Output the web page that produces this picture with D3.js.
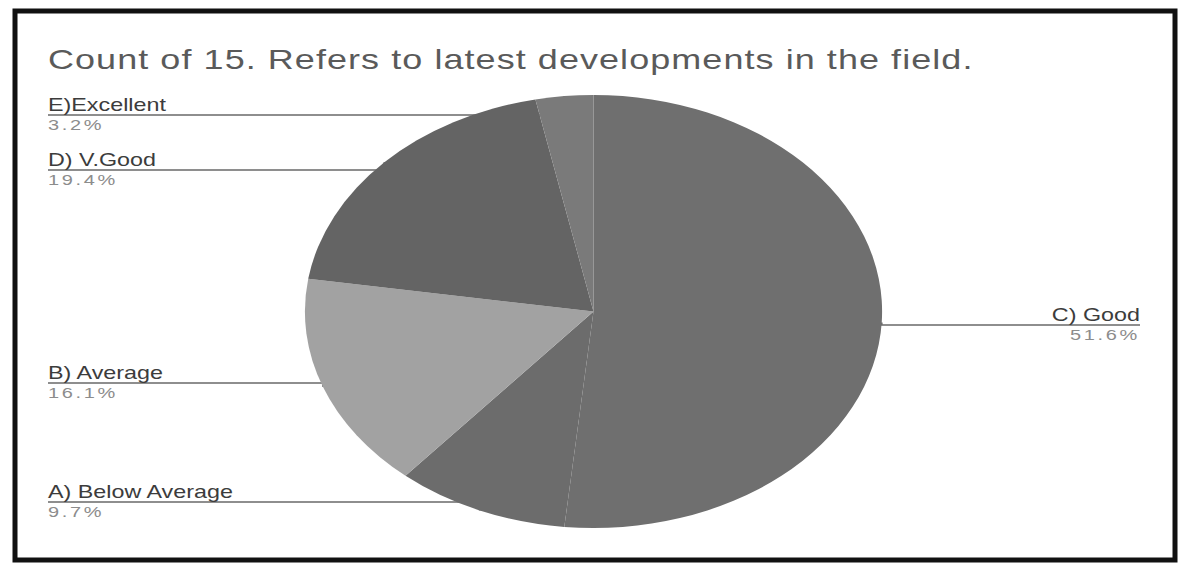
<!DOCTYPE html>
<html>
<head>
<meta charset="utf-8">
<script src="https://cdn.jsdelivr.net/npm/d3@7"></script>
<style>
  body { margin: 0; background: #fff; }
  text { font-family: "Liberation Sans", Arial, sans-serif; }
</style>
</head>
<body>
<svg width="1182" height="565"></svg>
<script>
// данные (ответы, 31 человек)
const categories = ["C) Good", "A) Below Average", "B) Average", "D) V.Good", "E)Excellent"];
const counts = [16, 3, 5, 6, 1];
const colors = ["#6f6f6f", "#6c6c6c", "#a2a2a2", "#646464", "#7a7a7a"];
const title = "Count of 15. Refers to latest developments in the field.";

const svg = d3.select("svg")
const width = +svg.attr("width")
const height = +svg.attr("height")

// скан растянут по горизонтали, поэтому рисуем всё в сжатых координатах
const sx = 1.333;

svg.append("rect")
    .attr("x", 15).attr("y", 11)
    .attr("width", 1160).attr("height", 549)
    .attr("fill", "#fff")
    .attr("stroke", "#111")
    .attr("stroke-width", 5);

const g = svg.append("g").attr("transform", `scale(${sx},1)`);

g.append("text")
    .attr("x", 48 / sx).attr("y", 69)
    .attr("font-size", 27)
    .attr("letter-spacing", 0.8)
    .attr("fill", "#5a5a5a")
    .text(title);

const cx = 593.5 / sx, cy = 311.5, r = 216.5;

const pie = d3.pie().sort(null).value(d => d)
const arcs = pie(counts)
const arc = d3.arc().innerRadius(0).outerRadius(r)
const total = d3.sum(counts)
const fmt = d3.format(".1%")

// где стоят подписи: сторона и высота линии
const labelPos = {
    "C) Good": {side: "right", y: 325},
    "A) Below Average": {side: "left", y: 502},
    "B) Average": {side: "left", y: 383},
    "D) V.Good": {side: "left", y: 170},
    "E)Excellent": {side: "left", y: 115}
};

const leftX = 48 / sx, rightX = 1140 / sx;

// линии-выноски (под пирогом): горизонтально, потом к середине дуги
arcs.forEach((a, i) => {
    const pos = labelPos[categories[i]];
    const mid = (a.startAngle + a.endAngle) / 2;
    const px = cx + r * Math.sin(mid);
    const py = cy - r * Math.cos(mid);
    const x0 = pos.side == "left" ? leftX : rightX;
    g.append("path")
        .attr("d", d3.line()([[x0, pos.y], [px, pos.y], [px, py]]))
        .attr("stroke", "#6a6a6a")
        .attr("stroke-width", 1.3)
        .attr("fill", "none");
});

g.append("g")
    .attr("transform", `translate(${cx},${cy})`)
    .selectAll("path")
    .data(arcs)
    .join("path")
    .attr("d", arc)
    .attr("fill", (d, i) => colors[i]);

arcs.forEach((a, i) => {
    const pos = labelPos[categories[i]];
    const left = pos.side == "left";
    const x0 = left ? leftX : rightX;
    g.append("text")
        .attr("x", x0).attr("y", pos.y - 4)
        .attr("text-anchor", left ? "start" : "end")
        .attr("font-size", 17.5)
        .attr("fill", "#3c3c3c")
        .text(categories[i]);
    g.append("text")
        .attr("x", x0).attr("y", pos.y + 15)
        .attr("text-anchor", left ? "start" : "end")
        .attr("font-size", 15)
        .attr("letter-spacing", 2)
        .attr("fill", "#8c8c8c")
        .text(fmt(counts[i] / total));
});
</script>
</body>
</html>
